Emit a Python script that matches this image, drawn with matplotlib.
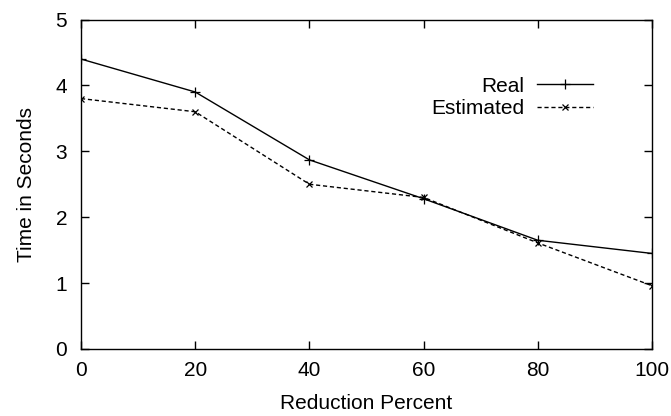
import matplotlib.pyplot as plt
import matplotlib.ticker as ticker

# ── Data ──────────────────────────────────────────────────────────────────────
reduction = [0, 20, 40, 60, 80, 100]
real      = [4.40, 3.90, 2.87, 2.28, 1.65, 1.45]
estimated = [3.80, 3.60, 2.50, 2.30, 1.61, 0.96]

FS = 15
plt.rcParams.update({
    "font.family": ["Liberation Sans", "DejaVu Sans"],
    "font.size": FS,
    "axes.linewidth": 1.0,
})

W, H = 671, 416
fig = plt.figure(figsize=(W / 100, H / 100), dpi=100)
ax = fig.add_axes([81 / W, (H - 349) / H, (652 - 81) / W, (349 - 19.5) / H])

ax.plot(reduction, real, color="black", lw=1.0, marker="+", ms=7, mew=0.9,
        label="Real")
ax.plot(reduction, estimated, color="black", lw=1.0, ls=(0, (3, 2)), marker="x",
        ms=5, mew=0.9, label="Estimated")

ax.set_xlim(0, 100)
ax.set_ylim(0, 5)
ax.xaxis.set_major_locator(ticker.MultipleLocator(20))
ax.yaxis.set_major_locator(ticker.MultipleLocator(1))
ax.tick_params(direction="in", top=True, right=True, length=6, width=1.0,
               labelsize=FS)
ax.tick_params(axis="x", pad=9)
ax.tick_params(axis="y", pad=10)
ax.set_xlabel("Reduction Percent", fontsize=FS, labelpad=10)
ax.set_ylabel("Time in Seconds", fontsize=FS, labelpad=14)

ax.legend(loc="upper right", bbox_to_anchor=(0.9155, 0.858), frameon=False,
          markerfirst=False, handlelength=2.7, handletextpad=0.6,
          labelspacing=0.15, borderpad=0, fontsize=FS)

fig.savefig("out.png", dpi=100)
